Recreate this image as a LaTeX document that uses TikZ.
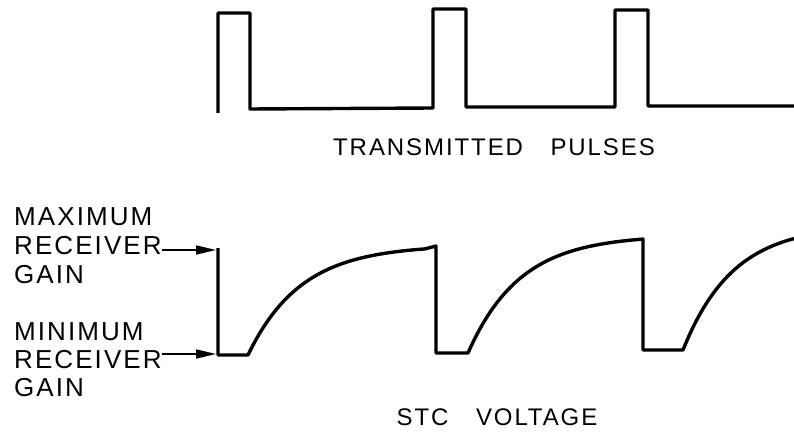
\documentclass[tikz,border=0pt]{standalone}
\usepackage{fontspec}
\setmainfont{Liberation Sans}
\newfontfamily\labelfont[LetterSpace=8,WordSpace=2.5]{Liberation Sans}
\newfontfamily\titlefont[LetterSpace=8,WordSpace=3.2]{Liberation Sans}
\usetikzlibrary{arrows.meta}
\tikzset{
  wave/.style={line width=3.4pt, line join=round},
  gainlbl/.style={anchor=base west, inner sep=0pt, font=\labelfont\fontsize{26}{30}\selectfont},
  caption/.style={anchor=base, inner sep=0pt, font=\titlefont\fontsize{24}{28}\selectfont},
  gainarrow/.style={line width=1.6pt, -{Triangle[length=20pt,width=9pt]}}
}
\begin{document}
\begin{tikzpicture}[x=1pt, y=-1pt]
  \useasboundingbox (0,0) rectangle (794,433);
  % transmitted pulses
  \draw[wave] (218,113) -- (218,13) -- (250,13) -- (250,109) -- (433,108)
    -- (433,9) -- (466,9) -- (466,107) -- (615,107) -- (615,10) -- (648,10)
    -- (648,106) -- (794,106);
  \node[caption] (txcap) at (494,155) {TRANSMITTED PULSES};

  % stc voltage
  \draw[wave] (218,248) -- (218,355) -- (248,355)
    -- plot[domain=248:425, samples=60, variable=\x] (\x, {355-110*(1-exp(-(\x-248)/53))})
    -- (436,246) -- (436,353) -- (468,353)
    -- plot[domain=468:643, samples=60, variable=\x] (\x, {353-118*(1-exp(-(\x-468)/52))})
    -- (643,350) -- (683,350)
    -- plot[domain=683:794, samples=50, variable=\x] (\x, {350-125*(1-exp(-(\x-683)/50))});
  \node[caption] (stccap) at (497,425) {STC VOLTAGE};

  % gain labels
  \node[gainlbl] (maxa) at (14,225) {MAXIMUM};
  \node[gainlbl] (maxb) at (14,254) {RECEIVER};
  \node[gainlbl] (maxc) at (14,283) {GAIN};
  \node[gainlbl] (mina) at (14,340) {MINIMUM};
  \node[gainlbl] (minb) at (14,368) {RECEIVER};
  \node[gainlbl] (minc) at (14,396) {GAIN};
  \coordinate (gmax) at (216,250);
  \coordinate (gmin) at (216,354);
  \draw[gainarrow] (maxb.east |- gmax) -- (gmax);
  \draw[gainarrow] (minb.east |- gmin) -- (gmin);
\end{tikzpicture}
\end{document}
